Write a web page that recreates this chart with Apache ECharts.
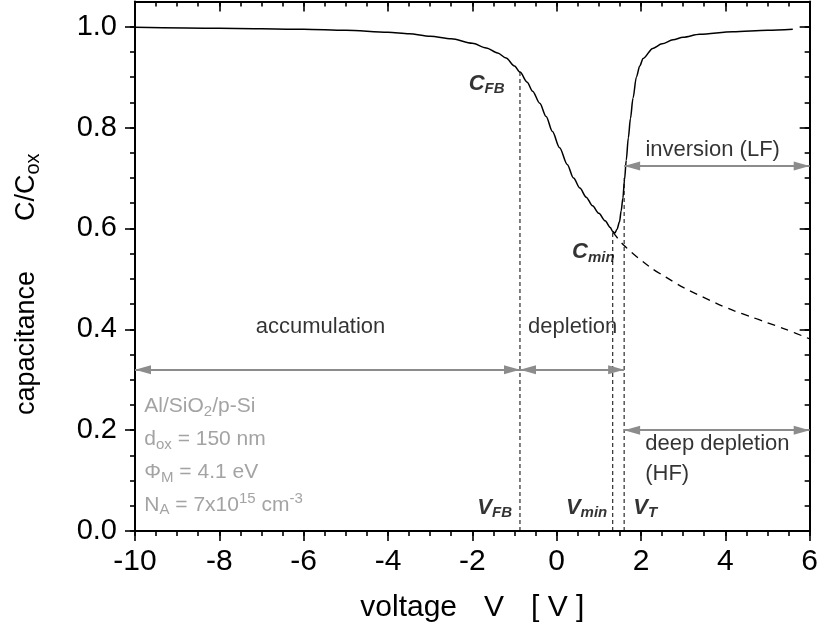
<!DOCTYPE html>
<html>
<head>
<meta charset="utf-8">
<script src="https://cdn.jsdelivr.net/npm/echarts@6/dist/echarts.min.js"></script>
<style>
  html, body { margin: 0; padding: 0; background: #ffffff; }
  #chart { width: 821px; height: 635px; }
</style>
</head>
<body>
<div id="chart"></div>
<script>
// Low-frequency (quasi-static) C-V curve, C/Cox versus gate voltage
const lfVoltage = [-10, -8, -6, -5, -4, -3.5, -3, -2.5, -2, -1.67, -1.4, -1.2, -1.0, -0.87,
  -0.7, -0.57, -0.4, -0.25, -0.1, 0.07, 0.25, 0.4, 0.55, 0.7, 0.85, 1.0, 1.15, 1.27, 1.33,
  1.38, 1.43, 1.49, 1.53, 1.57, 1.61, 1.65, 1.70, 1.75, 1.81, 1.89, 1.97, 2.05, 2.28, 2.5,
  2.76, 3.0, 3.39, 4.18, 5.0, 5.6];
const lfCapacitance = [0.999, 0.997, 0.995, 0.993, 0.989, 0.986, 0.981, 0.976, 0.967, 0.958,
  0.948, 0.938, 0.922, 0.910, 0.890, 0.872, 0.848, 0.822, 0.792, 0.760, 0.727, 0.700, 0.680,
  0.662, 0.645, 0.630, 0.615, 0.602, 0.594, 0.591, 0.598, 0.613, 0.635, 0.660, 0.697, 0.735,
  0.780, 0.818, 0.858, 0.900, 0.922, 0.937, 0.957, 0.966, 0.974, 0.979, 0.985, 0.990, 0.993,
  0.995];

// High-frequency branch continuing into deep depletion
const hfVoltage = [1.33, 1.6, 2.2, 2.6, 3.0, 3.8, 4.2, 4.6, 5.0, 5.4, 6.0];
const hfCapacitance = [0.593, 0.566, 0.524, 0.503, 0.483, 0.451, 0.437, 0.425, 0.413, 0.401, 0.381];

// Characteristic points
const vFB = -0.87, cFB = 0.910;
const vMin = 1.33, cMin = 0.592;
const vT = 1.60, cT = 0.700;

// Region arrows: [from V, to V, level C/Cox]
const regionArrows = [
  [-10, vFB, 0.32],   // accumulation
  [vFB, vT, 0.32],    // depletion
  [vT, 6, 0.724],     // inversion (LF)
  [vT, 6, 0.20]       // deep depletion (HF)
];

// Axis ticks
const xTicks = [-10, -8, -6, -4, -2, 0, 2, 4, 6];
const yTicks = [0, 0.2, 0.4, 0.6, 0.8, 1.0];
const xMinorStep = 0.5, yMinorStep = 0.05;

const xMin = -10, xMax = 6, yMin = 0, yMax = 1.05;

function stepValues(lo, hi, step) {
  const out = [];
  const n = Math.round((hi - lo) / step);
  for (let i = 0; i <= n; i++) out.push(+(lo + i * step).toFixed(4));
  return out;
}
const xMinorTicks = stepValues(xMin, xMax, xMinorStep);
const yMinorTicks = stepValues(yMin, 1.0, yMinorStep);

const FONT = "'Liberation Sans', Arial, Helvetica, sans-serif";
const BLACK = '#000000';
const GRAY = '#8c8c8c';

function zip(a, b) { return a.map((v, i) => [v, b[i]]); }

function makeX(pos, ticks, len, inside, showLine, labels) {
  const ax = {
    type: 'value', min: xMin, max: xMax, position: pos,
    splitLine: { show: false },
    axisLine: { show: showLine, onZero: false, lineStyle: { color: BLACK, width: 2 } },
    axisTick: { show: true, inside: inside, length: len, customValues: ticks,
      lineStyle: { color: BLACK, width: 1.6 } },
    axisLabel: { show: false }
  };
  if (labels) {
    ax.axisLabel = { show: true, customValues: ticks, fontSize: 30, fontFamily: FONT,
      color: BLACK, margin: 16, formatter: v => String(v) };
  }
  return ax;
}
function makeY(pos, ticks, len, inside, showLine, labels) {
  const ax = {
    type: 'value', min: yMin, max: yMax, position: pos,
    splitLine: { show: false },
    axisLine: { show: showLine, onZero: false, lineStyle: { color: BLACK, width: 2 } },
    axisTick: { show: true, inside: inside, length: len, customValues: ticks,
      lineStyle: { color: BLACK, width: 1.6 } },
    axisLabel: { show: false }
  };
  if (labels) {
    ax.axisLabel = { show: true, customValues: ticks, fontSize: 29, fontFamily: FONT,
      color: BLACK, margin: 18, formatter: v => v.toFixed(1) };
  }
  return ax;
}

const xAxes = [
  makeX('bottom', xTicks, 10, false, true, true),
  makeX('bottom', xMinorTicks, 5, false, false, false),
  makeX('top', xTicks, 10, true, true, false),
  makeX('top', xMinorTicks, 5, true, false, false)
];
xAxes[0].name = 'voltage{sp|}V{sp|}[ V ]';
xAxes[0].nameLocation = 'middle';
xAxes[0].nameGap = 62;
xAxes[0].nameTextStyle = { fontSize: 30, fontFamily: FONT, color: BLACK,
  rich: { sp: { width: 27, fontSize: 30 } } };

const yAxes = [
  makeY('left', yTicks, 10, false, true, true),
  makeY('left', yMinorTicks, 5, false, false, false),
  makeY('right', yTicks, 10, true, true, false),
  makeY('right', yMinorTicks, 5, true, false, false)
];
yAxes[0].name = 'capacitance{sp|}C/C{sub|ox}';
yAxes[0].nameLocation = 'middle';
yAxes[0].nameRotate = 90;
yAxes[0].nameGap = 92;
yAxes[0].nameTextStyle = { fontSize: 27, fontFamily: FONT, color: BLACK,
  padding: [0, 36, 0, 0],
  rich: { sp: { width: 50, fontSize: 27 }, sub: { fontSize: 20, padding: [12, 0, 0, 0] } } };

// Text annotations
const boldRich = {
  m: { fontSize: 22, fontWeight: 'bold', fontStyle: 'italic', fontFamily: FONT, color: BLACK },
  s: { fontSize: 15, fontWeight: 'bold', fontStyle: 'italic', fontFamily: FONT, color: BLACK,
       padding: [11, 0, 0, 0] }
};
const grayRich = {
  m: { fontSize: 21, fontFamily: FONT, color: GRAY },
  s: { fontSize: 15, fontFamily: FONT, color: GRAY, padding: [11, 0, 0, 0] },
  u: { fontSize: 15, fontFamily: FONT, color: GRAY, padding: [0, 0, 11, 0] }
};
const plainStyle = { fontSize: 22, fontFamily: FONT, color: BLACK, textBorderWidth: 0 };

function note(x, y, text, align, rich) {
  return {
    value: [x, y],
    label: Object.assign({ show: true, position: 'inside', formatter: text, align: align,
      verticalAlign: 'middle' }, rich ? { rich: rich } : plainStyle)
  };
}

const notes = [
  note(-1.66, 0.887, '{m|C}{s|FB}', 'center', boldRich),
  note(0.87, 0.553, '{m|C}{s|min}', 'center', boldRich),
  note(-1.47, 0.046, '{m|V}{s|FB}', 'center', boldRich),
  note(0.71, 0.046, '{m|V}{s|min}', 'center', boldRich),
  note(2.10, 0.046, '{m|V}{s|T}', 'center', boldRich),
  note(-5.6, 0.405, 'accumulation', 'center'),
  note(0.38, 0.405, 'depletion', 'center'),
  note(3.70, 0.755, 'inversion (LF)', 'center'),
  note(2.10, 0.172, 'deep depletion', 'left'),
  note(2.10, 0.114, '(HF)', 'left'),
  note(-9.78, 0.248, '{m|Al/SiO}{s|2}{m|/p-Si}', 'left', grayRich),
  note(-9.78, 0.182, '{m|d}{s|ox}{m| = 150 nm}', 'left', grayRich),
  note(-9.78, 0.117, '{m|Φ}{s|M}{m| = 4.1 eV}', 'left', grayRich),
  note(-9.78, 0.052, '{m|N}{s|A}{m| = 7x10}{u|15}{m| cm}{u|-3}', 'left', grayRich)
];

function guide(v, c) {
  return {
    type: 'line', data: [[v, 0], [v, c]], showSymbol: false, silent: true,
    lineStyle: { color: BLACK, width: 1, type: [4, 3] }, z: 2
  };
}

const option = {
  animation: false,
  backgroundColor: '#ffffff',
  grid: { left: 135, right: 9, top: 1.5, bottom: 104, containLabel: false },
  xAxis: xAxes,
  yAxis: yAxes,
  series: [
    {
      name: 'LF', type: 'line', data: zip(lfVoltage, lfCapacitance),
      showSymbol: false, smooth: 0.3, smoothMonotone: 'x', silent: true,
      lineStyle: { color: BLACK, width: 1.5 }, z: 4,
      markLine: {
        silent: true, symbol: ['triangle', 'triangle'], symbolSize: [9, 16],
        symbolOffset: [[0, 8], [0, 8]],
        label: { show: false },
        lineStyle: { color: GRAY, width: 2, type: 'solid' },
        emphasis: { disabled: true },
        data: regionArrows.map(a => [{ coord: [a[0], a[2]] }, { coord: [a[1], a[2]] }])
      }
    },
    {
      name: 'HF', type: 'line', data: zip(hfVoltage, hfCapacitance),
      showSymbol: false, smooth: 0.3, silent: true,
      lineStyle: { color: BLACK, width: 1.3, type: [8, 6] }, z: 3
    },
    guide(vFB, cFB),
    guide(vMin, cMin),
    guide(vT, cT),
    {
      name: 'notes', type: 'scatter', symbolSize: 0, silent: true, z: 5,
      data: notes
    }
  ]
};

const chart = echarts.init(document.getElementById('chart'), null, { renderer: 'canvas' });
chart.setOption(option);
</script>
</body>
</html>
